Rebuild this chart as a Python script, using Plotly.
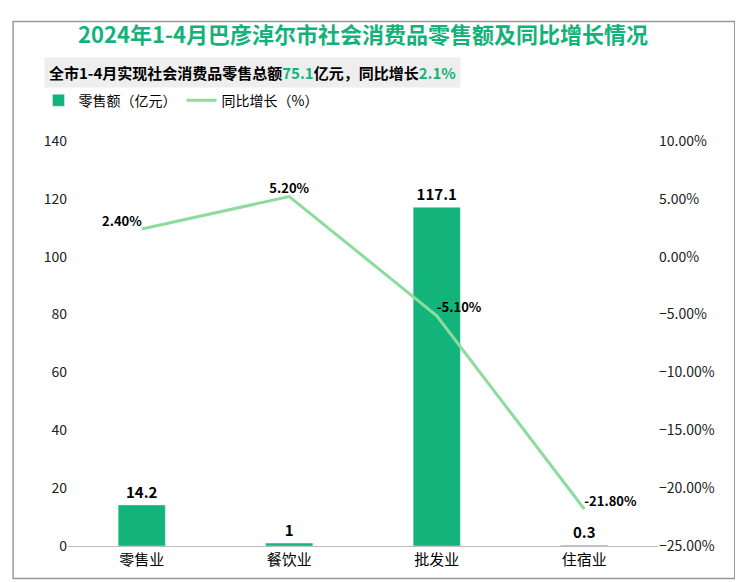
import plotly.graph_objects as go

cats = ['零售业', '餐饮业', '批发业', '住宿业']
sales = [14.2, 1, 117.1, 0.3]
growth = [2.40, 5.20, -5.10, -21.80]
sales_text = ['<b>14.2</b>', '<b>1</b>', '<b>117.1</b>', '<b>0.3</b>']
growth_text = ['<b>2.40%</b>', '<b>5.20%</b>', '<b>-5.10%</b>', '<b>-21.80%</b>']

fig = go.Figure()
fig.add_trace(go.Bar(x=cats, y=sales, name='零售额（亿元）', marker_color='#12b47c', width=0.32,
                     text=sales_text, textposition='outside', cliponaxis=False,
                     textfont=dict(size=15, color='black', family='Noto Sans CJK SC')))
fig.add_trace(go.Scatter(x=cats, y=growth, name='同比增长（%）', yaxis='y2', mode='lines+text',
                         line=dict(color='#8ddc9c', width=3), text=growth_text,
                         textposition=['top left', 'top center', 'top right', 'top right'],
                         cliponaxis=False,
                         textfont=dict(size=13, color='black', family='Noto Sans CJK SC')))

fig.update_layout(
    width=743, height=582, plot_bgcolor='white', paper_bgcolor='white',
    margin=dict(l=60, r=93, t=133, b=44),
    font=dict(family='Noto Sans CJK SC', size=13, color='#222'),
    showlegend=True, bargap=0.5,
    legend=dict(orientation='h', x=-0.05, y=1.06, xanchor='left', yanchor='bottom',
                font=dict(size=14, color='black')),
    xaxis=dict(showline=True, linecolor='#bbb', tickfont=dict(size=15, color='black'), ticks=''),
    yaxis=dict(range=[0, 140], dtick=20, showgrid=False, zeroline=False, tickfont=dict(size=14)),
    yaxis2=dict(range=[-25, 10], dtick=5, overlaying='y', side='right', showgrid=False,
                zeroline=False, ticksuffix='%', tickformat='.2f', tickfont=dict(size=14)),
    annotations=[
        dict(text='<b>2024年1-4月巴彦淖尔市社会消费品零售额及同比增长情况</b>', x=0.5, y=1.222,
             xref='paper', yref='paper', yanchor='bottom', showarrow=False,
             font=dict(size=22, color='#13b27a')),
        dict(text='<b>全市1-4月实现社会消费品零售总额<span style="color:#13b27a">75.1</span>亿元，同比增长<span style="color:#13b27a">2.1%</span></b>',
             x=-0.04, y=1.13, xref='paper', yref='paper', xanchor='left', yanchor='bottom',
             showarrow=False, bgcolor='#eeeeee', borderpad=4, font=dict(size=15, color='black')),
    ],
    shapes=[dict(type='rect', xref='paper', yref='paper', x0=-0.093, x1=1.13, y0=-0.08, y1=1.295,
                 line=dict(color='#999', width=1.5))],
)
fig.write_html('out.html')
